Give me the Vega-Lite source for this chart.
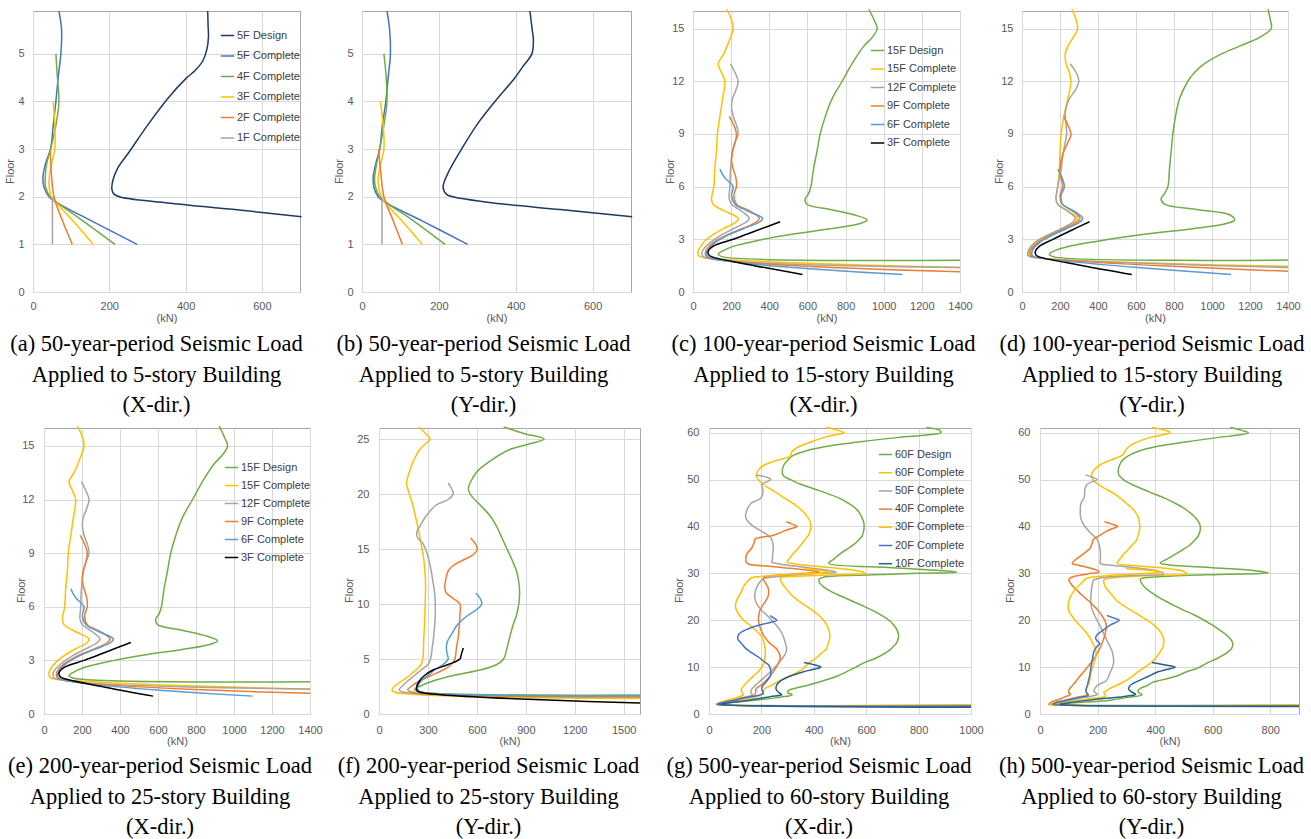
{
"$schema":"https://vega.github.io/schema/vega-lite/v6.json",
"padding":{"left":0,"top":5,"right":0,"bottom":0},
"background":"white",
"config":{
"view":{"stroke":"#A6A6A6","strokeWidth":1},
"axis":{"labelFont":"Liberation Sans","labelFontSize":11,"labelColor":"#595959","titleFont":"Liberation Sans","titleFontSize":11,"titleColor":"#595959","titleFontWeight":"normal","gridColor":"#D9D9D9","gridWidth":1,"ticks":false,"domain":false,"labelFlush":false,"labelOverlap":false},
"title":{"font":"Liberation Serif","fontSize":22.5,"fontWeight":"normal","color":"#000000","orient":"bottom","lineHeight":30.5,"anchor":"middle"},
"legend":{"title":null,"orient":"none","symbolType":"stroke","symbolSize":180,"symbolStrokeWidth":1.6,"labelFont":"Liberation Sans","labelFontSize":11,"labelColor":"#404040","labelOffset":2,"padding":0},
"line":{"strokeWidth":1.5,"interpolate":"catmull-rom","clip":true}
},
"datasets":{
"a":[
{"s":"5F Design","x":458,"y":5.9},{"s":"5F Design","x":459,"y":5.6},{"s":"5F Design","x":460,"y":5.35},{"s":"5F Design","x":456,"y":5.1},{"s":"5F Design","x":445,"y":4.85},{"s":"5F Design","x":425,"y":4.65},{"s":"5F Design","x":402,"y":4.49},{"s":"5F Design","x":354,"y":4.07},{"s":"5F Design","x":301,"y":3.51},{"s":"5F Design","x":253,"y":2.95},{"s":"5F Design","x":222,"y":2.6},{"s":"5F Design","x":209,"y":2.33},{"s":"5F Design","x":207,"y":2.15},{"s":"5F Design","x":213,"y":2.05},{"s":"5F Design","x":231,"y":1.99},{"s":"5F Design","x":354,"y":1.87},{"s":"5F Design","x":529,"y":1.73},{"s":"5F Design","x":704,"y":1.58},
{"s":"5F Complete","x":68,"y":5.9},{"s":"5F Complete","x":75,"y":5.5},{"s":"5F Complete","x":73,"y":5.0},{"s":"5F Complete","x":66,"y":4.5},{"s":"5F Complete","x":60,"y":4.0},{"s":"5F Complete","x":53,"y":3.5},{"s":"5F Complete","x":46,"y":3.0},{"s":"5F Complete","x":33,"y":2.7},{"s":"5F Complete","x":26,"y":2.4},{"s":"5F Complete","x":29,"y":2.2},{"s":"5F Complete","x":42,"y":2.0},{"s":"5F Complete","x":68,"y":1.85},{"s":"5F Complete","x":152,"y":1.5},{"s":"5F Complete","x":273,"y":1.0},
{"s":"4F Complete","x":60,"y":5.0},{"s":"4F Complete","x":64,"y":4.5},{"s":"4F Complete","x":68,"y":4.0},{"s":"4F Complete","x":60,"y":3.5},{"s":"4F Complete","x":46,"y":3.0},{"s":"4F Complete","x":36,"y":2.7},{"s":"4F Complete","x":32,"y":2.4},{"s":"4F Complete","x":33,"y":2.2},{"s":"4F Complete","x":45,"y":2.0},{"s":"4F Complete","x":68,"y":1.85},{"s":"4F Complete","x":130,"y":1.5},{"s":"4F Complete","x":215,"y":1.0},
{"s":"3F Complete","x":53,"y":4.0},{"s":"3F Complete","x":57,"y":3.5},{"s":"3F Complete","x":57,"y":3.0},{"s":"3F Complete","x":46,"y":2.6},{"s":"3F Complete","x":42,"y":2.3},{"s":"3F Complete","x":48,"y":2.0},{"s":"3F Complete","x":64,"y":1.85},{"s":"3F Complete","x":104,"y":1.5},{"s":"3F Complete","x":158,"y":1.0},
{"s":"2F Complete","x":45,"y":3.0},{"s":"2F Complete","x":48,"y":2.5},{"s":"2F Complete","x":55,"y":2.0},{"s":"2F Complete","x":77,"y":1.5},{"s":"2F Complete","x":103,"y":1.0},
{"s":"1F Complete","x":51,"y":2.0},{"s":"1F Complete","x":51,"y":1.0}
],
"b":[
{"s":"5F Design","x":437,"y":5.9},{"s":"5F Design","x":443,"y":5.5},{"s":"5F Design","x":446,"y":5.3},{"s":"5F Design","x":442,"y":5.0},{"s":"5F Design","x":420,"y":4.75},{"s":"5F Design","x":398,"y":4.5},{"s":"5F Design","x":346,"y":4.0},{"s":"5F Design","x":298,"y":3.5},{"s":"5F Design","x":259,"y":3.0},{"s":"5F Design","x":224,"y":2.5},{"s":"5F Design","x":211,"y":2.2},{"s":"5F Design","x":220,"y":2.05},{"s":"5F Design","x":236,"y":2.0},{"s":"5F Design","x":342,"y":1.87},{"s":"5F Design","x":516,"y":1.73},{"s":"5F Design","x":703,"y":1.58},
{"s":"5F Complete","x":65,"y":5.9},{"s":"5F Complete","x":72,"y":5.5},{"s":"5F Complete","x":74,"y":5.0},{"s":"5F Complete","x":68,"y":4.5},{"s":"5F Complete","x":62,"y":4.0},{"s":"5F Complete","x":53,"y":3.5},{"s":"5F Complete","x":46,"y":3.0},{"s":"5F Complete","x":36,"y":2.7},{"s":"5F Complete","x":29,"y":2.4},{"s":"5F Complete","x":31,"y":2.2},{"s":"5F Complete","x":42,"y":2.0},{"s":"5F Complete","x":68,"y":1.85},{"s":"5F Complete","x":155,"y":1.5},{"s":"5F Complete","x":275,"y":1.0},
{"s":"4F Complete","x":57,"y":5.0},{"s":"4F Complete","x":63,"y":4.5},{"s":"4F Complete","x":65,"y":4.0},{"s":"4F Complete","x":57,"y":3.5},{"s":"4F Complete","x":46,"y":3.0},{"s":"4F Complete","x":36,"y":2.6},{"s":"4F Complete","x":33,"y":2.3},{"s":"4F Complete","x":46,"y":2.0},{"s":"4F Complete","x":68,"y":1.85},{"s":"4F Complete","x":133,"y":1.5},{"s":"4F Complete","x":216,"y":1.0},
{"s":"3F Complete","x":48,"y":4.0},{"s":"3F Complete","x":55,"y":3.5},{"s":"3F Complete","x":57,"y":3.0},{"s":"3F Complete","x":46,"y":2.6},{"s":"3F Complete","x":42,"y":2.3},{"s":"3F Complete","x":50,"y":2.0},{"s":"3F Complete","x":63,"y":1.85},{"s":"3F Complete","x":103,"y":1.5},{"s":"3F Complete","x":157,"y":1.0},
{"s":"2F Complete","x":43,"y":3.0},{"s":"2F Complete","x":49,"y":2.5},{"s":"2F Complete","x":57,"y":2.0},{"s":"2F Complete","x":81,"y":1.5},{"s":"2F Complete","x":105,"y":1.0},
{"s":"1F Complete","x":52,"y":2.0},{"s":"1F Complete","x":52,"y":1.0}
],
"c":[
{"s":"15F Design","x":922,"y":16.1},{"s":"15F Design","x":949,"y":15.5},{"s":"15F Design","x":966,"y":15},{"s":"15F Design","x":940,"y":14.5},{"s":"15F Design","x":896,"y":14},{"s":"15F Design","x":834,"y":13},{"s":"15F Design","x":782,"y":12},{"s":"15F Design","x":729,"y":11},{"s":"15F Design","x":694,"y":10},{"s":"15F Design","x":667,"y":9},{"s":"15F Design","x":650,"y":8},{"s":"15F Design","x":632,"y":7},{"s":"15F Design","x":618,"y":6},{"s":"15F Design","x":606,"y":5.6},{"s":"15F Design","x":588,"y":5.3},{"s":"15F Design","x":597,"y":5.0},{"s":"15F Design","x":720,"y":4.7},{"s":"15F Design","x":843,"y":4.4},{"s":"15F Design","x":913,"y":4.1},{"s":"15F Design","x":878,"y":3.9},{"s":"15F Design","x":720,"y":3.6},{"s":"15F Design","x":527,"y":3.3},{"s":"15F Design","x":369,"y":3.0},{"s":"15F Design","x":211,"y":2.6},{"s":"15F Design","x":149,"y":2.3},{"s":"15F Design","x":132,"y":2.15},{"s":"15F Design","x":158,"y":2.0},{"s":"15F Design","x":1400,"y":1.81},
{"s":"15F Complete","x":176,"y":16.1},{"s":"15F Complete","x":202,"y":15.5},{"s":"15F Complete","x":211,"y":15},{"s":"15F Complete","x":197,"y":14.5},{"s":"15F Complete","x":179,"y":14},{"s":"15F Complete","x":158,"y":13.5},{"s":"15F Complete","x":132,"y":13},{"s":"15F Complete","x":149,"y":12.5},{"s":"15F Complete","x":167,"y":12},{"s":"15F Complete","x":155,"y":11},{"s":"15F Complete","x":141,"y":10},{"s":"15F Complete","x":128,"y":9},{"s":"15F Complete","x":123,"y":8},{"s":"15F Complete","x":114,"y":7},{"s":"15F Complete","x":109,"y":6},{"s":"15F Complete","x":97,"y":5.3},{"s":"15F Complete","x":105,"y":5.0},{"s":"15F Complete","x":167,"y":4.6},{"s":"15F Complete","x":237,"y":4.2},{"s":"15F Complete","x":228,"y":4.0},{"s":"15F Complete","x":176,"y":3.7},{"s":"15F Complete","x":110,"y":3.3},{"s":"15F Complete","x":72,"y":3.0},{"s":"15F Complete","x":40,"y":2.6},{"s":"15F Complete","x":26,"y":2.3},{"s":"15F Complete","x":28,"y":2.1},{"s":"15F Complete","x":40,"y":2.0},{"s":"15F Complete","x":1400,"y":1.39},
{"s":"12F Complete","x":197,"y":13},{"s":"12F Complete","x":220,"y":12.5},{"s":"12F Complete","x":237,"y":12},{"s":"12F Complete","x":225,"y":11.5},{"s":"12F Complete","x":207,"y":11},{"s":"12F Complete","x":202,"y":10.5},{"s":"12F Complete","x":211,"y":10},{"s":"12F Complete","x":228,"y":9.5},{"s":"12F Complete","x":237,"y":9},{"s":"12F Complete","x":220,"y":8.5},{"s":"12F Complete","x":207,"y":8},{"s":"12F Complete","x":197,"y":7},{"s":"12F Complete","x":193,"y":6},{"s":"12F Complete","x":190,"y":5.3},{"s":"12F Complete","x":202,"y":5.0},{"s":"12F Complete","x":255,"y":4.6},{"s":"12F Complete","x":295,"y":4.2},{"s":"12F Complete","x":281,"y":4.0},{"s":"12F Complete","x":211,"y":3.6},{"s":"12F Complete","x":141,"y":3.2},{"s":"12F Complete","x":88,"y":2.8},{"s":"12F Complete","x":53,"y":2.4},{"s":"12F Complete","x":47,"y":2.2},{"s":"12F Complete","x":55,"y":2.0},{"s":"12F Complete","x":1400,"y":1.4},
{"s":"9F Complete","x":190,"y":10},{"s":"9F Complete","x":214,"y":9.5},{"s":"9F Complete","x":228,"y":9},{"s":"9F Complete","x":220,"y":8.5},{"s":"9F Complete","x":207,"y":8},{"s":"9F Complete","x":202,"y":7.5},{"s":"9F Complete","x":211,"y":7},{"s":"9F Complete","x":225,"y":6.5},{"s":"9F Complete","x":228,"y":6},{"s":"9F Complete","x":214,"y":5.5},{"s":"9F Complete","x":228,"y":5.0},{"s":"9F Complete","x":299,"y":4.6},{"s":"9F Complete","x":348,"y":4.2},{"s":"9F Complete","x":334,"y":4.0},{"s":"9F Complete","x":255,"y":3.6},{"s":"9F Complete","x":167,"y":3.2},{"s":"9F Complete","x":105,"y":2.8},{"s":"9F Complete","x":70,"y":2.4},{"s":"9F Complete","x":65,"y":2.2},{"s":"9F Complete","x":72,"y":2.0},{"s":"9F Complete","x":1400,"y":1.16},
{"s":"6F Complete","x":141,"y":7},{"s":"6F Complete","x":167,"y":6.5},{"s":"6F Complete","x":211,"y":6},{"s":"6F Complete","x":202,"y":5.5},{"s":"6F Complete","x":220,"y":5.0},{"s":"6F Complete","x":290,"y":4.6},{"s":"6F Complete","x":365,"y":4.2},{"s":"6F Complete","x":351,"y":4.0},{"s":"6F Complete","x":263,"y":3.6},{"s":"6F Complete","x":176,"y":3.2},{"s":"6F Complete","x":114,"y":2.8},{"s":"6F Complete","x":79,"y":2.4},{"s":"6F Complete","x":70,"y":2.2},{"s":"6F Complete","x":78,"y":2.0},{"s":"6F Complete","x":1098,"y":1.0},
{"s":"3F Complete","x":457,"y":4.0},{"s":"3F Complete","x":334,"y":3.5},{"s":"3F Complete","x":211,"y":3.0},{"s":"3F Complete","x":105,"y":2.6},{"s":"3F Complete","x":79,"y":2.3},{"s":"3F Complete","x":84,"y":2.1},{"s":"3F Complete","x":100,"y":2.0},{"s":"3F Complete","x":322,"y":1.5},{"s":"3F Complete","x":574,"y":1.0}
],
"d":[
{"s":"15F Design","x":1295,"y":16.1},{"s":"15F Design","x":1307,"y":15.5},{"s":"15F Design","x":1312,"y":15},{"s":"15F Design","x":1251,"y":14.5},{"s":"15F Design","x":1145,"y":14},{"s":"15F Design","x":1040,"y":13.5},{"s":"15F Design","x":961,"y":13},{"s":"15F Design","x":908,"y":12.5},{"s":"15F Design","x":873,"y":12},{"s":"15F Design","x":829,"y":11},{"s":"15F Design","x":808,"y":10},{"s":"15F Design","x":794,"y":9},{"s":"15F Design","x":785,"y":8},{"s":"15F Design","x":776,"y":7},{"s":"15F Design","x":768,"y":6},{"s":"15F Design","x":750,"y":5.6},{"s":"15F Design","x":732,"y":5.3},{"s":"15F Design","x":750,"y":5.0},{"s":"15F Design","x":917,"y":4.7},{"s":"15F Design","x":1093,"y":4.4},{"s":"15F Design","x":1119,"y":4.1},{"s":"15F Design","x":1075,"y":3.9},{"s":"15F Design","x":899,"y":3.6},{"s":"15F Design","x":653,"y":3.3},{"s":"15F Design","x":460,"y":3.0},{"s":"15F Design","x":249,"y":2.6},{"s":"15F Design","x":162,"y":2.3},{"s":"15F Design","x":144,"y":2.15},{"s":"15F Design","x":170,"y":2.0},{"s":"15F Design","x":1400,"y":1.82},
{"s":"15F Complete","x":263,"y":16.1},{"s":"15F Complete","x":285,"y":15.5},{"s":"15F Complete","x":293,"y":15},{"s":"15F Complete","x":270,"y":14.5},{"s":"15F Complete","x":241,"y":14},{"s":"15F Complete","x":227,"y":13.5},{"s":"15F Complete","x":232,"y":13},{"s":"15F Complete","x":249,"y":12.5},{"s":"15F Complete","x":258,"y":12},{"s":"15F Complete","x":241,"y":11},{"s":"15F Complete","x":220,"y":10},{"s":"15F Complete","x":206,"y":9},{"s":"15F Complete","x":200,"y":8},{"s":"15F Complete","x":197,"y":7},{"s":"15F Complete","x":188,"y":6},{"s":"15F Complete","x":179,"y":5.3},{"s":"15F Complete","x":188,"y":5.0},{"s":"15F Complete","x":241,"y":4.6},{"s":"15F Complete","x":293,"y":4.2},{"s":"15F Complete","x":281,"y":4.0},{"s":"15F Complete","x":214,"y":3.6},{"s":"15F Complete","x":135,"y":3.2},{"s":"15F Complete","x":74,"y":2.8},{"s":"15F Complete","x":39,"y":2.4},{"s":"15F Complete","x":35,"y":2.1},{"s":"15F Complete","x":50,"y":2.0},{"s":"15F Complete","x":1400,"y":1.46},
{"s":"12F Complete","x":253,"y":13},{"s":"12F Complete","x":285,"y":12.5},{"s":"12F Complete","x":299,"y":12},{"s":"12F Complete","x":281,"y":11.5},{"s":"12F Complete","x":249,"y":11},{"s":"12F Complete","x":232,"y":10.5},{"s":"12F Complete","x":227,"y":10},{"s":"12F Complete","x":232,"y":9.5},{"s":"12F Complete","x":235,"y":9},{"s":"12F Complete","x":218,"y":8},{"s":"12F Complete","x":206,"y":7},{"s":"12F Complete","x":188,"y":6},{"s":"12F Complete","x":179,"y":5.3},{"s":"12F Complete","x":188,"y":5.0},{"s":"12F Complete","x":241,"y":4.6},{"s":"12F Complete","x":281,"y":4.2},{"s":"12F Complete","x":270,"y":4.0},{"s":"12F Complete","x":206,"y":3.6},{"s":"12F Complete","x":126,"y":3.2},{"s":"12F Complete","x":65,"y":2.8},{"s":"12F Complete","x":35,"y":2.4},{"s":"12F Complete","x":30,"y":2.1},{"s":"12F Complete","x":45,"y":2.0},{"s":"12F Complete","x":1400,"y":1.4},
{"s":"9F Complete","x":220,"y":10},{"s":"9F Complete","x":241,"y":9.5},{"s":"9F Complete","x":258,"y":9},{"s":"9F Complete","x":241,"y":8.5},{"s":"9F Complete","x":220,"y":8},{"s":"9F Complete","x":206,"y":7.5},{"s":"9F Complete","x":200,"y":7},{"s":"9F Complete","x":206,"y":6.5},{"s":"9F Complete","x":214,"y":6},{"s":"9F Complete","x":200,"y":5.5},{"s":"9F Complete","x":211,"y":5.0},{"s":"9F Complete","x":267,"y":4.6},{"s":"9F Complete","x":306,"y":4.2},{"s":"9F Complete","x":293,"y":4.0},{"s":"9F Complete","x":223,"y":3.6},{"s":"9F Complete","x":144,"y":3.2},{"s":"9F Complete","x":83,"y":2.8},{"s":"9F Complete","x":47,"y":2.4},{"s":"9F Complete","x":44,"y":2.1},{"s":"9F Complete","x":58,"y":2.0},{"s":"9F Complete","x":1400,"y":1.18},
{"s":"6F Complete","x":188,"y":7},{"s":"6F Complete","x":211,"y":6.5},{"s":"6F Complete","x":223,"y":6},{"s":"6F Complete","x":206,"y":5.5},{"s":"6F Complete","x":214,"y":5.0},{"s":"6F Complete","x":276,"y":4.6},{"s":"6F Complete","x":320,"y":4.2},{"s":"6F Complete","x":307,"y":4.0},{"s":"6F Complete","x":232,"y":3.6},{"s":"6F Complete","x":153,"y":3.2},{"s":"6F Complete","x":91,"y":2.8},{"s":"6F Complete","x":56,"y":2.4},{"s":"6F Complete","x":53,"y":2.1},{"s":"6F Complete","x":66,"y":2.0},{"s":"6F Complete","x":1101,"y":1.0},
{"s":"3F Complete","x":355,"y":4.0},{"s":"3F Complete","x":258,"y":3.5},{"s":"3F Complete","x":162,"y":3.0},{"s":"3F Complete","x":91,"y":2.6},{"s":"3F Complete","x":70,"y":2.3},{"s":"3F Complete","x":74,"y":2.1},{"s":"3F Complete","x":90,"y":2.0},{"s":"3F Complete","x":320,"y":1.5},{"s":"3F Complete","x":578,"y":1.0}
],
"f":[
{"s":"25F Design","x":764,"y":26.1},{"s":"25F Design","x":888,"y":25.5},{"s":"25F Design","x":1012,"y":25},{"s":"25F Design","x":909,"y":24.5},{"s":"25F Design","x":795,"y":24},{"s":"25F Design","x":682,"y":23},{"s":"25F Design","x":599,"y":22},{"s":"25F Design","x":558,"y":21},{"s":"25F Design","x":548,"y":20.5},{"s":"25F Design","x":558,"y":20},{"s":"25F Design","x":620,"y":19},{"s":"25F Design","x":682,"y":18},{"s":"25F Design","x":723,"y":17},{"s":"25F Design","x":754,"y":16},{"s":"25F Design","x":785,"y":15},{"s":"25F Design","x":816,"y":14},{"s":"25F Design","x":843,"y":13},{"s":"25F Design","x":857,"y":12},{"s":"25F Design","x":862,"y":11},{"s":"25F Design","x":857,"y":10},{"s":"25F Design","x":843,"y":9},{"s":"25F Design","x":820,"y":8},{"s":"25F Design","x":802,"y":7},{"s":"25F Design","x":785,"y":6},{"s":"25F Design","x":764,"y":5},{"s":"25F Design","x":723,"y":4.5},{"s":"25F Design","x":620,"y":4},{"s":"25F Design","x":455,"y":3.5},{"s":"25F Design","x":331,"y":3},{"s":"25F Design","x":248,"y":2.5},{"s":"25F Design","x":217,"y":2.2},{"s":"25F Design","x":248,"y":2.0},{"s":"25F Design","x":1600,"y":1.73},
{"s":"25F Complete","x":244,"y":26.1},{"s":"25F Complete","x":285,"y":25.5},{"s":"25F Complete","x":314,"y":25},{"s":"25F Complete","x":279,"y":24.5},{"s":"25F Complete","x":248,"y":24},{"s":"25F Complete","x":211,"y":23},{"s":"25F Complete","x":186,"y":22},{"s":"25F Complete","x":169,"y":21},{"s":"25F Complete","x":176,"y":20.5},{"s":"25F Complete","x":186,"y":20},{"s":"25F Complete","x":207,"y":19},{"s":"25F Complete","x":223,"y":18},{"s":"25F Complete","x":238,"y":17},{"s":"25F Complete","x":252,"y":16},{"s":"25F Complete","x":264,"y":15},{"s":"25F Complete","x":275,"y":14},{"s":"25F Complete","x":281,"y":13},{"s":"25F Complete","x":285,"y":12},{"s":"25F Complete","x":285,"y":11},{"s":"25F Complete","x":283,"y":10},{"s":"25F Complete","x":281,"y":9},{"s":"25F Complete","x":279,"y":8},{"s":"25F Complete","x":275,"y":7},{"s":"25F Complete","x":273,"y":6},{"s":"25F Complete","x":269,"y":5},{"s":"25F Complete","x":258,"y":4.5},{"s":"25F Complete","x":227,"y":4},{"s":"25F Complete","x":186,"y":3.5},{"s":"25F Complete","x":140,"y":3},{"s":"25F Complete","x":93,"y":2.5},{"s":"25F Complete","x":79,"y":2.2},{"s":"25F Complete","x":93,"y":2.0},{"s":"25F Complete","x":1600,"y":1.4},
{"s":"20F Complete","x":424,"y":21},{"s":"20F Complete","x":444,"y":20.5},{"s":"20F Complete","x":455,"y":20},{"s":"20F Complete","x":424,"y":19.5},{"s":"20F Complete","x":351,"y":19},{"s":"20F Complete","x":289,"y":18},{"s":"20F Complete","x":248,"y":17},{"s":"20F Complete","x":231,"y":16.5},{"s":"20F Complete","x":238,"y":16},{"s":"20F Complete","x":269,"y":15.5},{"s":"20F Complete","x":285,"y":15},{"s":"20F Complete","x":306,"y":14},{"s":"20F Complete","x":320,"y":13},{"s":"20F Complete","x":331,"y":12},{"s":"20F Complete","x":341,"y":11},{"s":"20F Complete","x":345,"y":10},{"s":"20F Complete","x":345,"y":9},{"s":"20F Complete","x":341,"y":8},{"s":"20F Complete","x":335,"y":7},{"s":"20F Complete","x":326,"y":6},{"s":"20F Complete","x":316,"y":5},{"s":"20F Complete","x":300,"y":4.5},{"s":"20F Complete","x":258,"y":4},{"s":"20F Complete","x":217,"y":3.5},{"s":"20F Complete","x":176,"y":3},{"s":"20F Complete","x":140,"y":2.5},{"s":"20F Complete","x":124,"y":2.2},{"s":"20F Complete","x":145,"y":2.0},{"s":"20F Complete","x":1600,"y":1.6},
{"s":"15F Complete","x":562,"y":16},{"s":"15F Complete","x":589,"y":15.5},{"s":"15F Complete","x":603,"y":15},{"s":"15F Complete","x":579,"y":14.5},{"s":"15F Complete","x":517,"y":14},{"s":"15F Complete","x":455,"y":13.5},{"s":"15F Complete","x":424,"y":13},{"s":"15F Complete","x":413,"y":12.5},{"s":"15F Complete","x":407,"y":12},{"s":"15F Complete","x":403,"y":11.5},{"s":"15F Complete","x":413,"y":11},{"s":"15F Complete","x":455,"y":10.5},{"s":"15F Complete","x":496,"y":10},{"s":"15F Complete","x":496,"y":9},{"s":"15F Complete","x":492,"y":8},{"s":"15F Complete","x":486,"y":7},{"s":"15F Complete","x":475,"y":6},{"s":"15F Complete","x":465,"y":5},{"s":"15F Complete","x":444,"y":4.5},{"s":"15F Complete","x":393,"y":4},{"s":"15F Complete","x":320,"y":3.5},{"s":"15F Complete","x":248,"y":3},{"s":"15F Complete","x":196,"y":2.5},{"s":"15F Complete","x":176,"y":2.2},{"s":"15F Complete","x":196,"y":2.0},{"s":"15F Complete","x":1600,"y":1.55},
{"s":"10F Complete","x":593,"y":11},{"s":"10F Complete","x":620,"y":10.5},{"s":"10F Complete","x":630,"y":10},{"s":"10F Complete","x":599,"y":9.5},{"s":"10F Complete","x":548,"y":9},{"s":"10F Complete","x":506,"y":8.5},{"s":"10F Complete","x":475,"y":8},{"s":"10F Complete","x":455,"y":7.5},{"s":"10F Complete","x":434,"y":7},{"s":"10F Complete","x":417,"y":6.5},{"s":"10F Complete","x":413,"y":6},{"s":"10F Complete","x":417,"y":5.5},{"s":"10F Complete","x":424,"y":5},{"s":"10F Complete","x":393,"y":4.5},{"s":"10F Complete","x":341,"y":4},{"s":"10F Complete","x":300,"y":3.5},{"s":"10F Complete","x":258,"y":3},{"s":"10F Complete","x":238,"y":2.5},{"s":"10F Complete","x":238,"y":2.2},{"s":"10F Complete","x":258,"y":2.0},{"s":"10F Complete","x":1600,"y":1.65},
{"s":"5F Complete","x":517,"y":6},{"s":"5F Complete","x":506,"y":5.5},{"s":"5F Complete","x":496,"y":5},{"s":"5F Complete","x":424,"y":4.5},{"s":"5F Complete","x":331,"y":4},{"s":"5F Complete","x":279,"y":3.5},{"s":"5F Complete","x":248,"y":3},{"s":"5F Complete","x":231,"y":2.5},{"s":"5F Complete","x":231,"y":2.2},{"s":"5F Complete","x":248,"y":2.0},{"s":"5F Complete","x":1600,"y":1.0}
],
"g":[
{"s":"60F Design","x":829,"y":61.1},{"s":"60F Design","x":881,"y":60.5},{"s":"60F Design","x":885,"y":60},{"s":"60F Design","x":829,"y":59.5},{"s":"60F Design","x":725,"y":59},{"s":"60F Design","x":570,"y":58},{"s":"60F Design","x":440,"y":57},{"s":"60F Design","x":363,"y":56},{"s":"60F Design","x":317,"y":55},{"s":"60F Design","x":298,"y":54},{"s":"60F Design","x":285,"y":53},{"s":"60F Design","x":280,"y":52},{"s":"60F Design","x":282,"y":51},{"s":"60F Design","x":291,"y":50.5},{"s":"60F Design","x":311,"y":50},{"s":"60F Design","x":350,"y":49},{"s":"60F Design","x":402,"y":48},{"s":"60F Design","x":453,"y":47},{"s":"60F Design","x":499,"y":46},{"s":"60F Design","x":531,"y":45},{"s":"60F Design","x":557,"y":44},{"s":"60F Design","x":573,"y":43},{"s":"60F Design","x":583,"y":42},{"s":"60F Design","x":590,"y":41},{"s":"60F Design","x":592,"y":40},{"s":"60F Design","x":590,"y":39},{"s":"60F Design","x":585,"y":38},{"s":"60F Design","x":576,"y":37.4},{"s":"60F Design","x":550,"y":36},{"s":"60F Design","x":522,"y":35},{"s":"60F Design","x":497,"y":34},{"s":"60F Design","x":475,"y":33},{"s":"60F Design","x":462,"y":32.5},{"s":"60F Design","x":457,"y":32.1},{"s":"60F Design","x":700,"y":31.2},{"s":"60F Design","x":880,"y":30.6},{"s":"60F Design","x":946,"y":30.25},{"s":"60F Design","x":800,"y":30.0},{"s":"60F Design","x":560,"y":29.6},{"s":"60F Design","x":440,"y":29.2},{"s":"60F Design","x":421,"y":28.8},{"s":"60F Design","x":422,"y":28},{"s":"60F Design","x":440,"y":27},{"s":"60F Design","x":470,"y":26},{"s":"60F Design","x":510,"y":25},{"s":"60F Design","x":550,"y":24},{"s":"60F Design","x":590,"y":23},{"s":"60F Design","x":628,"y":22},{"s":"60F Design","x":660,"y":21},{"s":"60F Design","x":687,"y":20},{"s":"60F Design","x":705,"y":19},{"s":"60F Design","x":717,"y":18},{"s":"60F Design","x":723,"y":17},{"s":"60F Design","x":722,"y":16},{"s":"60F Design","x":714,"y":15},{"s":"60F Design","x":705,"y":14.5},{"s":"60F Design","x":693,"y":13.8},{"s":"60F Design","x":640,"y":12},{"s":"60F Design","x":595,"y":11},{"s":"60F Design","x":560,"y":10},{"s":"60F Design","x":525,"y":9},{"s":"60F Design","x":486,"y":8},{"s":"60F Design","x":430,"y":7},{"s":"60F Design","x":382,"y":6.2},{"s":"60F Design","x":330,"y":5.5},{"s":"60F Design","x":305,"y":5.1},{"s":"60F Design","x":300,"y":4.6},{"s":"60F Design","x":317,"y":4.1},{"s":"60F Design","x":275,"y":3.6},{"s":"60F Design","x":188,"y":3.0},{"s":"60F Design","x":97,"y":2.5},{"s":"60F Design","x":39,"y":2.1},{"s":"60F Design","x":45,"y":2.0},{"s":"60F Design","x":1000,"y":1.85},
{"s":"60F Complete","x":447,"y":61.1},{"s":"60F Complete","x":492,"y":60.5},{"s":"60F Complete","x":516,"y":60},{"s":"60F Complete","x":479,"y":59.5},{"s":"60F Complete","x":440,"y":59},{"s":"60F Complete","x":389,"y":58},{"s":"60F Complete","x":343,"y":57},{"s":"60F Complete","x":317,"y":56},{"s":"60F Complete","x":313,"y":55.5},{"s":"60F Complete","x":311,"y":55},{"s":"60F Complete","x":285,"y":54.5},{"s":"60F Complete","x":253,"y":54},{"s":"60F Complete","x":207,"y":53},{"s":"60F Complete","x":188,"y":52},{"s":"60F Complete","x":181,"y":51},{"s":"60F Complete","x":188,"y":50},{"s":"60F Complete","x":207,"y":49},{"s":"60F Complete","x":233,"y":48},{"s":"60F Complete","x":262,"y":47},{"s":"60F Complete","x":290,"y":46},{"s":"60F Complete","x":318,"y":45},{"s":"60F Complete","x":343,"y":44},{"s":"60F Complete","x":362,"y":43},{"s":"60F Complete","x":377,"y":42},{"s":"60F Complete","x":386,"y":41},{"s":"60F Complete","x":389,"y":40},{"s":"60F Complete","x":386,"y":39},{"s":"60F Complete","x":378,"y":38},{"s":"60F Complete","x":369,"y":37.4},{"s":"60F Complete","x":350,"y":36},{"s":"60F Complete","x":335,"y":35},{"s":"60F Complete","x":318,"y":34},{"s":"60F Complete","x":305,"y":33},{"s":"60F Complete","x":298,"y":32.4},{"s":"60F Complete","x":330,"y":32.0},{"s":"60F Complete","x":470,"y":31.2},{"s":"60F Complete","x":570,"y":30.5},{"s":"60F Complete","x":598,"y":30.0},{"s":"60F Complete","x":480,"y":29.7},{"s":"60F Complete","x":320,"y":29.3},{"s":"60F Complete","x":272,"y":29.0},{"s":"60F Complete","x":278,"y":28},{"s":"60F Complete","x":290,"y":27},{"s":"60F Complete","x":305,"y":26},{"s":"60F Complete","x":322,"y":25},{"s":"60F Complete","x":345,"y":24},{"s":"60F Complete","x":372,"y":23},{"s":"60F Complete","x":398,"y":22},{"s":"60F Complete","x":420,"y":21},{"s":"60F Complete","x":437,"y":20},{"s":"60F Complete","x":449,"y":19},{"s":"60F Complete","x":457,"y":18},{"s":"60F Complete","x":461,"y":17},{"s":"60F Complete","x":460,"y":16},{"s":"60F Complete","x":455,"y":15},{"s":"60F Complete","x":447,"y":13.8},{"s":"60F Complete","x":430,"y":13},{"s":"60F Complete","x":410,"y":12},{"s":"60F Complete","x":385,"y":11},{"s":"60F Complete","x":365,"y":10},{"s":"60F Complete","x":356,"y":9.5},{"s":"60F Complete","x":340,"y":9},{"s":"60F Complete","x":305,"y":8},{"s":"60F Complete","x":266,"y":7},{"s":"60F Complete","x":235,"y":6},{"s":"60F Complete","x":214,"y":5.5},{"s":"60F Complete","x":207,"y":4.9},{"s":"60F Complete","x":207,"y":4.3},{"s":"60F Complete","x":170,"y":3.6},{"s":"60F Complete","x":110,"y":3.0},{"s":"60F Complete","x":60,"y":2.5},{"s":"60F Complete","x":30,"y":2.1},{"s":"60F Complete","x":35,"y":2.0},{"s":"60F Complete","x":1000,"y":1.9},
{"s":"50F Complete","x":179,"y":51},{"s":"50F Complete","x":220,"y":50.5},{"s":"50F Complete","x":236,"y":50},{"s":"50F Complete","x":220,"y":49.5},{"s":"50F Complete","x":201,"y":49},{"s":"50F Complete","x":205,"y":48},{"s":"50F Complete","x":205,"y":47},{"s":"50F Complete","x":197,"y":46},{"s":"50F Complete","x":181,"y":45.5},{"s":"50F Complete","x":162,"y":45},{"s":"50F Complete","x":149,"y":44},{"s":"50F Complete","x":142,"y":43},{"s":"50F Complete","x":140,"y":42},{"s":"50F Complete","x":150,"y":41},{"s":"50F Complete","x":170,"y":40},{"s":"50F Complete","x":200,"y":39},{"s":"50F Complete","x":228,"y":38},{"s":"50F Complete","x":238,"y":37.4},{"s":"50F Complete","x":245,"y":36},{"s":"50F Complete","x":245,"y":35},{"s":"50F Complete","x":243,"y":34},{"s":"50F Complete","x":242,"y":33},{"s":"50F Complete","x":240,"y":32.4},{"s":"50F Complete","x":270,"y":32.0},{"s":"50F Complete","x":380,"y":31.2},{"s":"50F Complete","x":460,"y":30.6},{"s":"50F Complete","x":486,"y":30.25},{"s":"50F Complete","x":420,"y":30.0},{"s":"50F Complete","x":290,"y":29.5},{"s":"50F Complete","x":215,"y":29.0},{"s":"50F Complete","x":207,"y":28.8},{"s":"50F Complete","x":192,"y":28},{"s":"50F Complete","x":182,"y":27},{"s":"50F Complete","x":176,"y":26},{"s":"50F Complete","x":175,"y":25},{"s":"50F Complete","x":178,"y":24},{"s":"50F Complete","x":188,"y":23},{"s":"50F Complete","x":203,"y":22},{"s":"50F Complete","x":222,"y":21},{"s":"50F Complete","x":240,"y":20},{"s":"50F Complete","x":256,"y":19},{"s":"50F Complete","x":270,"y":18},{"s":"50F Complete","x":280,"y":17},{"s":"50F Complete","x":287,"y":16},{"s":"50F Complete","x":292,"y":15},{"s":"50F Complete","x":296,"y":14},{"s":"50F Complete","x":293,"y":13},{"s":"50F Complete","x":282,"y":12},{"s":"50F Complete","x":268,"y":11},{"s":"50F Complete","x":252,"y":10},{"s":"50F Complete","x":235,"y":9},{"s":"50F Complete","x":215,"y":8},{"s":"50F Complete","x":195,"y":7},{"s":"50F Complete","x":175,"y":6},{"s":"50F Complete","x":162,"y":5.2},{"s":"50F Complete","x":160,"y":4.6},{"s":"50F Complete","x":165,"y":4.1},{"s":"50F Complete","x":130,"y":3.5},{"s":"50F Complete","x":95,"y":3.0},{"s":"50F Complete","x":55,"y":2.5},{"s":"50F Complete","x":30,"y":2.1},{"s":"50F Complete","x":35,"y":2.0},{"s":"50F Complete","x":1000,"y":1.75},
{"s":"40F Complete","x":295,"y":41},{"s":"40F Complete","x":317,"y":40.5},{"s":"40F Complete","x":337,"y":40},{"s":"40F Complete","x":311,"y":39.5},{"s":"40F Complete","x":285,"y":39},{"s":"40F Complete","x":240,"y":38},{"s":"40F Complete","x":178,"y":37.4},{"s":"40F Complete","x":172,"y":36.5},{"s":"40F Complete","x":168,"y":36},{"s":"40F Complete","x":162,"y":35.3},{"s":"40F Complete","x":145,"y":34.2},{"s":"40F Complete","x":140,"y":33},{"s":"40F Complete","x":142,"y":32.4},{"s":"40F Complete","x":150,"y":32.0},{"s":"40F Complete","x":230,"y":31.5},{"s":"40F Complete","x":330,"y":31.0},{"s":"40F Complete","x":400,"y":30.5},{"s":"40F Complete","x":421,"y":30.25},{"s":"40F Complete","x":360,"y":30.0},{"s":"40F Complete","x":260,"y":29.6},{"s":"40F Complete","x":212,"y":29.2},{"s":"40F Complete","x":207,"y":28.8},{"s":"40F Complete","x":215,"y":28},{"s":"40F Complete","x":225,"y":27},{"s":"40F Complete","x":228,"y":26},{"s":"40F Complete","x":225,"y":25},{"s":"40F Complete","x":215,"y":24},{"s":"40F Complete","x":203,"y":23},{"s":"40F Complete","x":194,"y":22},{"s":"40F Complete","x":190,"y":21},{"s":"40F Complete","x":189,"y":20},{"s":"40F Complete","x":192,"y":19},{"s":"40F Complete","x":198,"y":18},{"s":"40F Complete","x":206,"y":17},{"s":"40F Complete","x":218,"y":16},{"s":"40F Complete","x":234,"y":15},{"s":"40F Complete","x":250,"y":14.3},{"s":"40F Complete","x":259,"y":13.8},{"s":"40F Complete","x":272,"y":12.3},{"s":"40F Complete","x":270,"y":11.5},{"s":"40F Complete","x":262,"y":10.5},{"s":"40F Complete","x":255,"y":9.8},{"s":"40F Complete","x":245,"y":9},{"s":"40F Complete","x":232,"y":8},{"s":"40F Complete","x":215,"y":7},{"s":"40F Complete","x":195,"y":6},{"s":"40F Complete","x":181,"y":5.5},{"s":"40F Complete","x":178,"y":4.7},{"s":"40F Complete","x":175,"y":4.1},{"s":"40F Complete","x":140,"y":3.5},{"s":"40F Complete","x":100,"y":3.0},{"s":"40F Complete","x":60,"y":2.5},{"s":"40F Complete","x":30,"y":2.1},{"s":"40F Complete","x":35,"y":2.0},{"s":"40F Complete","x":1000,"y":1.75},
{"s":"30F Complete","x":363,"y":31},{"s":"30F Complete","x":430,"y":30.6},{"s":"30F Complete","x":460,"y":30.25},{"s":"30F Complete","x":400,"y":30.0},{"s":"30F Complete","x":260,"y":29.6},{"s":"30F Complete","x":175,"y":29.2},{"s":"30F Complete","x":162,"y":29.0},{"s":"30F Complete","x":142,"y":28},{"s":"30F Complete","x":130,"y":27},{"s":"30F Complete","x":123,"y":26},{"s":"30F Complete","x":112,"y":25},{"s":"30F Complete","x":104,"y":24},{"s":"30F Complete","x":101,"y":23},{"s":"30F Complete","x":106,"y":22},{"s":"30F Complete","x":117,"y":21},{"s":"30F Complete","x":132,"y":20},{"s":"30F Complete","x":155,"y":19},{"s":"30F Complete","x":175,"y":18},{"s":"30F Complete","x":194,"y":17},{"s":"30F Complete","x":205,"y":16},{"s":"30F Complete","x":211,"y":15},{"s":"30F Complete","x":214,"y":14},{"s":"30F Complete","x":215,"y":13},{"s":"30F Complete","x":214,"y":12},{"s":"30F Complete","x":210,"y":11},{"s":"30F Complete","x":201,"y":10},{"s":"30F Complete","x":188,"y":9},{"s":"30F Complete","x":168,"y":8},{"s":"30F Complete","x":149,"y":7},{"s":"30F Complete","x":132,"y":6},{"s":"30F Complete","x":123,"y":5.2},{"s":"30F Complete","x":127,"y":4.5},{"s":"30F Complete","x":132,"y":4.1},{"s":"30F Complete","x":104,"y":3.5},{"s":"30F Complete","x":71,"y":3.0},{"s":"30F Complete","x":45,"y":2.5},{"s":"30F Complete","x":28,"y":2.1},{"s":"30F Complete","x":33,"y":2.0},{"s":"30F Complete","x":1000,"y":1.9},
{"s":"20F Complete","x":233,"y":21},{"s":"20F Complete","x":246,"y":20.5},{"s":"20F Complete","x":259,"y":20},{"s":"20F Complete","x":233,"y":19.5},{"s":"20F Complete","x":194,"y":19},{"s":"20F Complete","x":142,"y":18},{"s":"20F Complete","x":114,"y":17},{"s":"20F Complete","x":110,"y":16},{"s":"20F Complete","x":125,"y":15},{"s":"20F Complete","x":140,"y":14},{"s":"20F Complete","x":165,"y":13},{"s":"20F Complete","x":192,"y":12},{"s":"20F Complete","x":215,"y":11},{"s":"20F Complete","x":227,"y":10.5},{"s":"20F Complete","x":232,"y":10},{"s":"20F Complete","x":236,"y":9},{"s":"20F Complete","x":233,"y":8},{"s":"20F Complete","x":220,"y":7},{"s":"20F Complete","x":205,"y":6},{"s":"20F Complete","x":201,"y":5.5},{"s":"20F Complete","x":207,"y":4.4},{"s":"20F Complete","x":190,"y":4},{"s":"20F Complete","x":140,"y":3.5},{"s":"20F Complete","x":100,"y":3.0},{"s":"20F Complete","x":55,"y":2.5},{"s":"20F Complete","x":30,"y":2.1},{"s":"20F Complete","x":35,"y":2.0},{"s":"20F Complete","x":1000,"y":1.7},
{"s":"10F Complete","x":363,"y":11},{"s":"10F Complete","x":402,"y":10.5},{"s":"10F Complete","x":427,"y":10},{"s":"10F Complete","x":395,"y":9.5},{"s":"10F Complete","x":360,"y":9},{"s":"10F Complete","x":305,"y":8},{"s":"10F Complete","x":272,"y":7},{"s":"10F Complete","x":259,"y":6.2},{"s":"10F Complete","x":256,"y":5.3},{"s":"10F Complete","x":268,"y":4.5},{"s":"10F Complete","x":278,"y":4.1},{"s":"10F Complete","x":233,"y":3.7},{"s":"10F Complete","x":155,"y":3.0},{"s":"10F Complete","x":91,"y":2.5},{"s":"10F Complete","x":45,"y":2.1},{"s":"10F Complete","x":50,"y":2.0},{"s":"10F Complete","x":1000,"y":1.45}
],
"h":[
{"s":"60F Design","x":661,"y":61.1},{"s":"60F Design","x":701,"y":60.5},{"s":"60F Design","x":724,"y":60},{"s":"60F Design","x":690,"y":59.5},{"s":"60F Design","x":620,"y":59},{"s":"60F Design","x":505,"y":58},{"s":"60F Design","x":401,"y":57},{"s":"60F Design","x":340,"y":56},{"s":"60F Design","x":305,"y":55},{"s":"60F Design","x":285,"y":54},{"s":"60F Design","x":276,"y":53},{"s":"60F Design","x":272,"y":52},{"s":"60F Design","x":274,"y":51},{"s":"60F Design","x":290,"y":50},{"s":"60F Design","x":318,"y":49},{"s":"60F Design","x":355,"y":48},{"s":"60F Design","x":395,"y":47},{"s":"60F Design","x":435,"y":46},{"s":"60F Design","x":468,"y":45},{"s":"60F Design","x":497,"y":44},{"s":"60F Design","x":520,"y":43},{"s":"60F Design","x":538,"y":42},{"s":"60F Design","x":551,"y":41},{"s":"60F Design","x":557,"y":40},{"s":"60F Design","x":556,"y":39},{"s":"60F Design","x":550,"y":38},{"s":"60F Design","x":540,"y":37.2},{"s":"60F Design","x":520,"y":36},{"s":"60F Design","x":495,"y":35},{"s":"60F Design","x":468,"y":34},{"s":"60F Design","x":440,"y":33},{"s":"60F Design","x":418,"y":32.2},{"s":"60F Design","x":450,"y":31.8},{"s":"60F Design","x":600,"y":31.2},{"s":"60F Design","x":740,"y":30.6},{"s":"60F Design","x":794,"y":30.1},{"s":"60F Design","x":650,"y":29.8},{"s":"60F Design","x":450,"y":29.4},{"s":"60F Design","x":360,"y":29.0},{"s":"60F Design","x":349,"y":28.8},{"s":"60F Design","x":352,"y":28},{"s":"60F Design","x":365,"y":27},{"s":"60F Design","x":385,"y":26},{"s":"60F Design","x":410,"y":25},{"s":"60F Design","x":436,"y":24.1},{"s":"60F Design","x":470,"y":23},{"s":"60F Design","x":505,"y":22},{"s":"60F Design","x":540,"y":21},{"s":"60F Design","x":570,"y":20},{"s":"60F Design","x":598,"y":19},{"s":"60F Design","x":622,"y":18},{"s":"60F Design","x":645,"y":17},{"s":"60F Design","x":662,"y":16},{"s":"60F Design","x":670,"y":15},{"s":"60F Design","x":666,"y":14},{"s":"60F Design","x":655,"y":13.3},{"s":"60F Design","x":620,"y":12},{"s":"60F Design","x":585,"y":11},{"s":"60F Design","x":555,"y":10},{"s":"60F Design","x":540,"y":9.6},{"s":"60F Design","x":510,"y":9},{"s":"60F Design","x":470,"y":8},{"s":"60F Design","x":405,"y":7},{"s":"60F Design","x":389,"y":6.7},{"s":"60F Design","x":370,"y":6},{"s":"60F Design","x":350,"y":5.5},{"s":"60F Design","x":340,"y":5.0},{"s":"60F Design","x":345,"y":4.5},{"s":"60F Design","x":355,"y":4.1},{"s":"60F Design","x":310,"y":3.6},{"s":"60F Design","x":250,"y":3.0},{"s":"60F Design","x":216,"y":2.75},{"s":"60F Design","x":120,"y":2.4},{"s":"60F Design","x":60,"y":2.1},{"s":"60F Design","x":70,"y":2.0},{"s":"60F Design","x":900,"y":1.85},
{"s":"60F Complete","x":389,"y":61.1},{"s":"60F Complete","x":436,"y":60.5},{"s":"60F Complete","x":453,"y":60},{"s":"60F Complete","x":424,"y":59.5},{"s":"60F Complete","x":384,"y":59},{"s":"60F Complete","x":337,"y":58},{"s":"60F Complete","x":308,"y":57},{"s":"60F Complete","x":295,"y":56},{"s":"60F Complete","x":291,"y":55.5},{"s":"60F Complete","x":280,"y":55},{"s":"60F Complete","x":239,"y":54},{"s":"60F Complete","x":205,"y":53},{"s":"60F Complete","x":187,"y":52},{"s":"60F Complete","x":179,"y":51},{"s":"60F Complete","x":184,"y":50},{"s":"60F Complete","x":202,"y":49},{"s":"60F Complete","x":228,"y":48},{"s":"60F Complete","x":257,"y":47},{"s":"60F Complete","x":280,"y":46},{"s":"60F Complete","x":299,"y":45},{"s":"60F Complete","x":318,"y":44},{"s":"60F Complete","x":332,"y":43},{"s":"60F Complete","x":341,"y":42},{"s":"60F Complete","x":345,"y":41},{"s":"60F Complete","x":347,"y":40},{"s":"60F Complete","x":345,"y":39},{"s":"60F Complete","x":340,"y":38},{"s":"60F Complete","x":337,"y":37.2},{"s":"60F Complete","x":320,"y":36},{"s":"60F Complete","x":305,"y":35},{"s":"60F Complete","x":290,"y":34},{"s":"60F Complete","x":277,"y":33},{"s":"60F Complete","x":268,"y":32.1},{"s":"60F Complete","x":300,"y":31.8},{"s":"60F Complete","x":420,"y":31.2},{"s":"60F Complete","x":495,"y":30.5},{"s":"60F Complete","x":511,"y":29.9},{"s":"60F Complete","x":420,"y":29.6},{"s":"60F Complete","x":280,"y":29.2},{"s":"60F Complete","x":222,"y":28.6},{"s":"60F Complete","x":222,"y":28},{"s":"60F Complete","x":228,"y":27},{"s":"60F Complete","x":241,"y":26},{"s":"60F Complete","x":255,"y":25},{"s":"60F Complete","x":268,"y":24.1},{"s":"60F Complete","x":293,"y":23},{"s":"60F Complete","x":320,"y":22},{"s":"60F Complete","x":347,"y":21},{"s":"60F Complete","x":372,"y":20},{"s":"60F Complete","x":395,"y":19},{"s":"60F Complete","x":412,"y":18},{"s":"60F Complete","x":424,"y":17},{"s":"60F Complete","x":430,"y":16},{"s":"60F Complete","x":430,"y":15},{"s":"60F Complete","x":425,"y":14},{"s":"60F Complete","x":418,"y":13.3},{"s":"60F Complete","x":403,"y":12},{"s":"60F Complete","x":389,"y":11.1},{"s":"60F Complete","x":365,"y":10},{"s":"60F Complete","x":340,"y":9},{"s":"60F Complete","x":320,"y":8},{"s":"60F Complete","x":308,"y":7.5},{"s":"60F Complete","x":280,"y":6.5},{"s":"60F Complete","x":245,"y":5.5},{"s":"60F Complete","x":232,"y":5.0},{"s":"60F Complete","x":222,"y":4.6},{"s":"60F Complete","x":228,"y":3.8},{"s":"60F Complete","x":180,"y":3.3},{"s":"60F Complete","x":120,"y":2.8},{"s":"60F Complete","x":75,"y":2.4},{"s":"60F Complete","x":50,"y":2.1},{"s":"60F Complete","x":55,"y":2.0},{"s":"60F Complete","x":900,"y":1.9},
{"s":"50F Complete","x":158,"y":51},{"s":"50F Complete","x":181,"y":50.5},{"s":"50F Complete","x":199,"y":50},{"s":"50F Complete","x":181,"y":49.5},{"s":"50F Complete","x":164,"y":49},{"s":"50F Complete","x":156,"y":48},{"s":"50F Complete","x":155,"y":47},{"s":"50F Complete","x":153,"y":46},{"s":"50F Complete","x":147,"y":45.5},{"s":"50F Complete","x":143,"y":45},{"s":"50F Complete","x":140,"y":44},{"s":"50F Complete","x":140,"y":43},{"s":"50F Complete","x":141,"y":42},{"s":"50F Complete","x":146,"y":41},{"s":"50F Complete","x":156,"y":40},{"s":"50F Complete","x":170,"y":39},{"s":"50F Complete","x":186,"y":38},{"s":"50F Complete","x":199,"y":37.2},{"s":"50F Complete","x":206,"y":36},{"s":"50F Complete","x":209,"y":35},{"s":"50F Complete","x":210,"y":34},{"s":"50F Complete","x":210,"y":33},{"s":"50F Complete","x":210,"y":32.1},{"s":"50F Complete","x":240,"y":31.8},{"s":"50F Complete","x":330,"y":31.2},{"s":"50F Complete","x":410,"y":30.5},{"s":"50F Complete","x":430,"y":29.9},{"s":"50F Complete","x":350,"y":29.6},{"s":"50F Complete","x":230,"y":29.2},{"s":"50F Complete","x":187,"y":28.6},{"s":"50F Complete","x":183,"y":28},{"s":"50F Complete","x":180,"y":27},{"s":"50F Complete","x":178,"y":26},{"s":"50F Complete","x":177,"y":25},{"s":"50F Complete","x":176,"y":24.1},{"s":"50F Complete","x":178,"y":23},{"s":"50F Complete","x":183,"y":22},{"s":"50F Complete","x":190,"y":21},{"s":"50F Complete","x":198,"y":20},{"s":"50F Complete","x":207,"y":19},{"s":"50F Complete","x":215,"y":18},{"s":"50F Complete","x":222,"y":17},{"s":"50F Complete","x":230,"y":16},{"s":"50F Complete","x":238,"y":15},{"s":"50F Complete","x":246,"y":14},{"s":"50F Complete","x":251,"y":13.3},{"s":"50F Complete","x":255,"y":12},{"s":"50F Complete","x":256,"y":11.1},{"s":"50F Complete","x":252,"y":10},{"s":"50F Complete","x":245,"y":9},{"s":"50F Complete","x":238,"y":8},{"s":"50F Complete","x":230,"y":7.1},{"s":"50F Complete","x":205,"y":6.3},{"s":"50F Complete","x":193,"y":5.65},{"s":"50F Complete","x":187,"y":4.9},{"s":"50F Complete","x":199,"y":4.2},{"s":"50F Complete","x":160,"y":3.6},{"s":"50F Complete","x":110,"y":3.0},{"s":"50F Complete","x":70,"y":2.5},{"s":"50F Complete","x":45,"y":2.1},{"s":"50F Complete","x":50,"y":2.0},{"s":"50F Complete","x":900,"y":1.75},
{"s":"40F Complete","x":224,"y":41},{"s":"40F Complete","x":250,"y":40.5},{"s":"40F Complete","x":270,"y":40},{"s":"40F Complete","x":250,"y":39.5},{"s":"40F Complete","x":232,"y":39},{"s":"40F Complete","x":205,"y":38},{"s":"40F Complete","x":185,"y":37.2},{"s":"40F Complete","x":181,"y":36.3},{"s":"40F Complete","x":178,"y":36},{"s":"40F Complete","x":176,"y":35.5},{"s":"40F Complete","x":168,"y":35},{"s":"40F Complete","x":148,"y":34},{"s":"40F Complete","x":125,"y":33},{"s":"40F Complete","x":112,"y":32.1},{"s":"40F Complete","x":130,"y":31.8},{"s":"40F Complete","x":170,"y":31.2},{"s":"40F Complete","x":200,"y":30.6},{"s":"40F Complete","x":205,"y":30.3},{"s":"40F Complete","x":180,"y":30.0},{"s":"40F Complete","x":130,"y":29.5},{"s":"40F Complete","x":105,"y":29.0},{"s":"40F Complete","x":100,"y":28.6},{"s":"40F Complete","x":105,"y":28},{"s":"40F Complete","x":118,"y":27},{"s":"40F Complete","x":135,"y":26},{"s":"40F Complete","x":152,"y":25},{"s":"40F Complete","x":170,"y":24.1},{"s":"40F Complete","x":188,"y":23},{"s":"40F Complete","x":203,"y":22},{"s":"40F Complete","x":215,"y":21},{"s":"40F Complete","x":225,"y":20},{"s":"40F Complete","x":230,"y":19},{"s":"40F Complete","x":229,"y":18},{"s":"40F Complete","x":226,"y":17},{"s":"40F Complete","x":221,"y":16},{"s":"40F Complete","x":215,"y":15},{"s":"40F Complete","x":208,"y":14},{"s":"40F Complete","x":202,"y":13.3},{"s":"40F Complete","x":190,"y":12},{"s":"40F Complete","x":178,"y":11},{"s":"40F Complete","x":165,"y":10},{"s":"40F Complete","x":152,"y":9},{"s":"40F Complete","x":138,"y":8},{"s":"40F Complete","x":125,"y":7},{"s":"40F Complete","x":112,"y":6},{"s":"40F Complete","x":102,"y":5.3},{"s":"40F Complete","x":100,"y":4.6},{"s":"40F Complete","x":106,"y":4.2},{"s":"40F Complete","x":85,"y":3.6},{"s":"40F Complete","x":60,"y":3.0},{"s":"40F Complete","x":38,"y":2.5},{"s":"40F Complete","x":30,"y":2.1},{"s":"40F Complete","x":35,"y":2.0},{"s":"40F Complete","x":900,"y":1.75},
{"s":"30F Complete","x":300,"y":31},{"s":"30F Complete","x":390,"y":30.6},{"s":"30F Complete","x":424,"y":30.3},{"s":"30F Complete","x":370,"y":30.0},{"s":"30F Complete","x":230,"y":29.5},{"s":"30F Complete","x":165,"y":29.0},{"s":"30F Complete","x":158,"y":28.8},{"s":"30F Complete","x":145,"y":28},{"s":"30F Complete","x":128,"y":27},{"s":"30F Complete","x":115,"y":26},{"s":"30F Complete","x":106,"y":25},{"s":"30F Complete","x":100,"y":24},{"s":"30F Complete","x":98,"y":23},{"s":"30F Complete","x":100,"y":22},{"s":"30F Complete","x":110,"y":21},{"s":"30F Complete","x":122,"y":20},{"s":"30F Complete","x":137,"y":19},{"s":"30F Complete","x":152,"y":18},{"s":"30F Complete","x":165,"y":17},{"s":"30F Complete","x":176,"y":16},{"s":"30F Complete","x":184,"y":15},{"s":"30F Complete","x":192,"y":14},{"s":"30F Complete","x":195,"y":13},{"s":"30F Complete","x":193,"y":12},{"s":"30F Complete","x":188,"y":11},{"s":"30F Complete","x":183,"y":10},{"s":"30F Complete","x":178,"y":9},{"s":"30F Complete","x":175,"y":8},{"s":"30F Complete","x":172,"y":7},{"s":"30F Complete","x":170,"y":6.4},{"s":"30F Complete","x":158,"y":5.3},{"s":"30F Complete","x":160,"y":4.8},{"s":"30F Complete","x":168,"y":4.2},{"s":"30F Complete","x":130,"y":3.6},{"s":"30F Complete","x":90,"y":3.0},{"s":"30F Complete","x":55,"y":2.5},{"s":"30F Complete","x":35,"y":2.1},{"s":"30F Complete","x":40,"y":2.0},{"s":"30F Complete","x":900,"y":1.9},
{"s":"20F Complete","x":233,"y":21},{"s":"20F Complete","x":255,"y":20.5},{"s":"20F Complete","x":276,"y":20},{"s":"20F Complete","x":262,"y":19.5},{"s":"20F Complete","x":245,"y":19},{"s":"20F Complete","x":222,"y":18},{"s":"20F Complete","x":200,"y":17},{"s":"20F Complete","x":193,"y":16.2},{"s":"20F Complete","x":200,"y":15.5},{"s":"20F Complete","x":208,"y":15},{"s":"20F Complete","x":200,"y":14.5},{"s":"20F Complete","x":193,"y":14},{"s":"20F Complete","x":187,"y":13.3},{"s":"20F Complete","x":183,"y":12},{"s":"20F Complete","x":180,"y":11},{"s":"20F Complete","x":177,"y":10},{"s":"20F Complete","x":175,"y":9},{"s":"20F Complete","x":172,"y":8},{"s":"20F Complete","x":168,"y":7},{"s":"20F Complete","x":164,"y":6},{"s":"20F Complete","x":160,"y":5},{"s":"20F Complete","x":162,"y":4.4},{"s":"20F Complete","x":168,"y":4.0},{"s":"20F Complete","x":130,"y":3.5},{"s":"20F Complete","x":95,"y":3.0},{"s":"20F Complete","x":60,"y":2.5},{"s":"20F Complete","x":45,"y":2.1},{"s":"20F Complete","x":50,"y":2.0},{"s":"20F Complete","x":900,"y":1.7},
{"s":"10F Complete","x":389,"y":11},{"s":"10F Complete","x":430,"y":10.5},{"s":"10F Complete","x":470,"y":10},{"s":"10F Complete","x":440,"y":9.5},{"s":"10F Complete","x":410,"y":9},{"s":"10F Complete","x":375,"y":8},{"s":"10F Complete","x":340,"y":7},{"s":"10F Complete","x":320,"y":6.4},{"s":"10F Complete","x":310,"y":5.8},{"s":"10F Complete","x":308,"y":5.3},{"s":"10F Complete","x":318,"y":4.7},{"s":"10F Complete","x":332,"y":4.2},{"s":"10F Complete","x":300,"y":3.8},{"s":"10F Complete","x":220,"y":3.3},{"s":"10F Complete","x":150,"y":2.8},{"s":"10F Complete","x":100,"y":2.4},{"s":"10F Complete","x":70,"y":2.1},{"s":"10F Complete","x":75,"y":2.0},{"s":"10F Complete","x":900,"y":1.6}
]
},
"concat":[
{"hconcat":[
{"data":{"name":"a"},"width":267,"height":281,
"title":{"text":["(a) 50-year-period Seismic Load","Applied to 5-story Building","(X-dir.)"],"dx":-10,"offset":10},
"mark":{"type":"line"},
"encoding":{
"x":{"field":"x","type":"quantitative","scale":{"domain":[0,700],"nice":false,"zero":false},"axis":{"values":[0,200,400,600],"format":"d","title":"(kN)","labelPadding":8,"titlePadding":1}},
"y":{"field":"y","type":"quantitative","scale":{"domain":[0,5.9],"nice":false},"axis":{"values":[0,1,2,3,4,5],"format":"d","title":"Floor","minExtent":32,"maxExtent":32,"titleX":-23,"titleY":160,"titleBaseline":"middle","labelPadding":9}},
"color":{"field":"s","type":"nominal","scale":{"domain":["5F Design","5F Complete","4F Complete","3F Complete","2F Complete","1F Complete"],"range":["#1F3864","#4472C4","#70AD47","#FFC000","#ED7D31","#A5A5A5"]},"legend":{"legendX":187,"legendY":17,"rowPadding":7.5}},
"order":{"field":"y","type":"quantitative"}}},
{"data":{"name":"b"},"width":269,"height":281,
"title":{"text":["(b) 50-year-period Seismic Load","Applied to 5-story Building","(Y-dir.)"],"dx":-13,"offset":10},
"mark":{"type":"line"},
"encoding":{
"x":{"field":"x","type":"quantitative","scale":{"domain":[0,700],"nice":false,"zero":false},"axis":{"values":[0,200,400,600],"format":"d","title":"(kN)","labelPadding":8,"titlePadding":1}},
"y":{"field":"y","type":"quantitative","scale":{"domain":[0,5.9],"nice":false},"axis":{"values":[0,1,2,3,4,5],"format":"d","title":"Floor","minExtent":32,"maxExtent":32,"titleX":-23,"titleY":160,"titleBaseline":"middle","labelPadding":9}},
"color":{"field":"s","type":"nominal","scale":{"domain":["5F Design","5F Complete","4F Complete","3F Complete","2F Complete","1F Complete"],"range":["#1F3864","#4472C4","#70AD47","#FFC000","#ED7D31","#A5A5A5"]},"legend":null},
"order":{"field":"y","type":"quantitative"}}},
{"data":{"name":"c"},"width":267,"height":281,
"title":{"text":["(c) 100-year-period Seismic Load","Applied to 15-story Building","(X-dir.)"],"dx":-3,"offset":10},
"mark":{"type":"line"},
"encoding":{
"x":{"field":"x","type":"quantitative","scale":{"domain":[0,1400],"nice":false,"zero":false},"axis":{"values":[0,200,400,600,800,1000,1200,1400],"format":"d","title":"(kN)","labelPadding":8,"titlePadding":1}},
"y":{"field":"y","type":"quantitative","scale":{"domain":[0,16],"nice":false},"axis":{"values":[0,3,6,9,12,15],"format":"d","title":"Floor","minExtent":32,"maxExtent":32,"titleX":-23,"titleY":160,"titleBaseline":"middle","labelPadding":9}},
"color":{"field":"s","type":"nominal","scale":{"domain":["15F Design","15F Complete","12F Complete","9F Complete","6F Complete","3F Complete"],"range":["#70AD47","#FFC000","#A5A5A5","#ED7D31","#5B9BD5","#000000"]},"legend":{"legendX":177,"legendY":32,"rowPadding":5.5}},
"order":{"field":"y","type":"quantitative"}}},
{"data":{"name":"d"},"width":266,"height":281,
"title":{"text":["(d) 100-year-period Seismic Load","Applied to 15-story Building","(Y-dir.)"],"dx":-3,"offset":10},
"mark":{"type":"line"},
"encoding":{
"x":{"field":"x","type":"quantitative","scale":{"domain":[0,1400],"nice":false,"zero":false},"axis":{"values":[0,200,400,600,800,1000,1200,1400],"format":"d","title":"(kN)","labelPadding":8,"titlePadding":1}},
"y":{"field":"y","type":"quantitative","scale":{"domain":[0,16],"nice":false},"axis":{"values":[0,3,6,9,12,15],"format":"d","title":"Floor","minExtent":32,"maxExtent":32,"titleX":-23,"titleY":160,"titleBaseline":"middle","labelPadding":9}},
"color":{"field":"s","type":"nominal","scale":{"domain":["15F Design","15F Complete","12F Complete","9F Complete","6F Complete","3F Complete"],"range":["#70AD47","#FFC000","#A5A5A5","#ED7D31","#5B9BD5","#000000"]},"legend":null},
"order":{"field":"y","type":"quantitative"}}}
],"spacing":62,"bounds":"flush","resolve":{"scale":{"color":"independent","x":"independent","y":"independent"}}},
{"hconcat":[
{"width":1,"height":1,"data":{"values":[]},"mark":"point","view":{"stroke":null}},
{"hconcat":[
{"data":{"name":"c"},"width":266,"height":286,
"title":{"text":["(e) 200-year-period Seismic Load","Applied to 25-story Building","(X-dir.)"],"dx":-17,"offset":9},
"mark":{"type":"line"},
"encoding":{
"x":{"field":"x","type":"quantitative","scale":{"domain":[0,1400],"nice":false,"zero":false},"axis":{"values":[0,200,400,600,800,1000,1200,1400],"format":"d","title":"(kN)","labelPadding":10,"titlePadding":0}},
"y":{"field":"y","type":"quantitative","scale":{"domain":[0,16],"nice":false},"axis":{"values":[0,3,6,9,12,15],"format":"d","title":"Floor","minExtent":43,"maxExtent":43,"titleX":-23,"titleY":162,"titleBaseline":"middle","labelPadding":10}},
"color":{"field":"s","type":"nominal","scale":{"domain":["15F Design","15F Complete","12F Complete","9F Complete","6F Complete","3F Complete"],"range":["#70AD47","#FFC000","#A5A5A5","#ED7D31","#5B9BD5","#000000"]},"legend":{"legendX":180,"legendY":32,"rowPadding":5}},
"order":{"field":"y","type":"quantitative"}}},
{"data":{"name":"f"},"width":261,"height":286,
"title":{"text":["(f) 200-year-period Seismic Load","Applied to 25-story Building","(Y-dir.)"],"dx":-21,"offset":9},
"mark":{"type":"line"},
"encoding":{
"x":{"field":"x","type":"quantitative","scale":{"domain":[0,1600],"nice":false,"zero":false},"axis":{"values":[0,300,600,900,1200,1500],"format":"d","title":"(kN)","labelPadding":10,"titlePadding":0}},
"y":{"field":"y","type":"quantitative","scale":{"domain":[0,26],"nice":false},"axis":{"values":[0,5,10,15,20,25],"format":"d","title":"Floor","minExtent":43,"maxExtent":43,"titleX":-30,"titleY":162,"titleBaseline":"middle","labelPadding":10}},
"color":{"field":"s","type":"nominal","scale":{"domain":["25F Design","25F Complete","20F Complete","15F Complete","10F Complete","5F Complete"],"range":["#70AD47","#FFC000","#A5A5A5","#ED7D31","#5B9BD5","#000000"]},"legend":null},
"order":{"field":"y","type":"quantitative"}}},
{"data":{"name":"g"},"width":262,"height":286,
"title":{"text":["(g) 500-year-period Seismic Load","Applied to 60-story Building","(X-dir.)"],"dx":-21,"offset":9},
"mark":{"type":"line"},
"encoding":{
"x":{"field":"x","type":"quantitative","scale":{"domain":[0,1000],"nice":false,"zero":false},"axis":{"values":[0,200,400,600,800,1000],"format":"d","title":"(kN)","labelPadding":10,"titlePadding":0}},
"y":{"field":"y","type":"quantitative","scale":{"domain":[0,61],"nice":false},"axis":{"values":[0,10,20,30,40,50,60],"format":"d","title":"Floor","minExtent":43,"maxExtent":43,"titleX":-30,"titleY":162,"titleBaseline":"middle","labelPadding":10}},
"color":{"field":"s","type":"nominal","scale":{"domain":["60F Design","60F Complete","50F Complete","40F Complete","30F Complete","20F Complete","10F Complete"],"range":["#70AD47","#FFC000","#A5A5A5","#ED7D31","#FFC000","#4472C4","#255E91"]},"legend":{"legendX":169,"legendY":19,"rowPadding":5.2}},
"order":{"field":"y","type":"quantitative"}}},
{"data":{"name":"h"},"width":259,"height":286,
"title":{"text":["(h) 500-year-period Seismic Load","Applied to 60-story Building","(Y-dir.)"],"dx":-18,"offset":9},
"mark":{"type":"line"},
"encoding":{
"x":{"field":"x","type":"quantitative","scale":{"domain":[0,900],"nice":false,"zero":false},"axis":{"values":[0,200,400,600,800],"format":"d","title":"(kN)","labelPadding":10,"titlePadding":0}},
"y":{"field":"y","type":"quantitative","scale":{"domain":[0,61],"nice":false},"axis":{"values":[0,10,20,30,40,50,60],"format":"d","title":"Floor","minExtent":43,"maxExtent":43,"titleX":-30,"titleY":162,"titleBaseline":"middle","labelPadding":10}},
"color":{"field":"s","type":"nominal","scale":{"domain":["60F Design","60F Complete","50F Complete","40F Complete","30F Complete","20F Complete","10F Complete"],"range":["#70AD47","#FFC000","#A5A5A5","#ED7D31","#FFC000","#4472C4","#255E91"]},"legend":null},
"order":{"field":"y","type":"quantitative"}}}
],"spacing":69,"bounds":"flush","resolve":{"scale":{"color":"independent","x":"independent","y":"independent"}}}
],"spacing":10,"bounds":"flush","resolve":{"scale":{"color":"independent","x":"independent","y":"independent"}}}
],
"columns":1,
"align":"none",
"spacing":5,
"bounds":"full",
"resolve":{"scale":{"color":"independent","x":"independent","y":"independent"}}
}
